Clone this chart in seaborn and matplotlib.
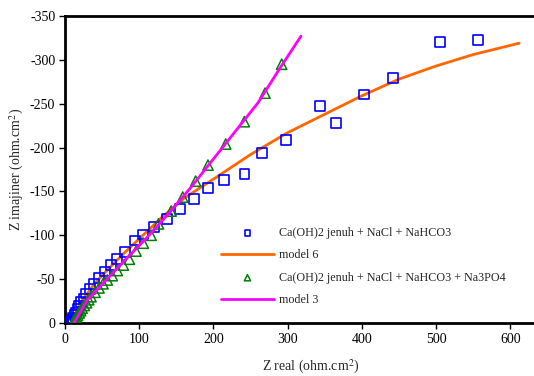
import seaborn as sns
import matplotlib.pyplot as plt
import pandas as pd

# measured data: Ca(OH)2 jenuh + NaCl + NaHCO3
zr_a = [8, 8.5, 9, 10, 11, 13, 15, 17, 19, 22, 25, 28.3, 33.7, 39.5, 45.8, 54.4, 62, 69.6,
        81, 94, 105.5, 120, 137, 155, 174, 193, 214.7, 242, 266, 297.8, 343.6, 365.6,
        403, 441.6, 505, 557]
zi_a = [0, 1, 2, 4, 6, 9, 12, 16, 20, 24, 28, 33.7, 39, 44.7, 51.5, 58.7, 66, 73,
        81.4, 94, 100.8, 109, 119, 130, 141, 154, 163, 170, 193.5, 209, 247.7, 228,
        260.6, 279, 320, 323]

# measured data: Ca(OH)2 jenuh + NaCl + NaHCO3 + Na3PO4
zr_b = [11, 11.5, 12, 13, 14, 15.5, 17, 19, 21, 23, 26, 29, 32, 35, 40.4, 45.8, 51.2, 57,
        63.7, 70.5, 78.6, 86.7, 95.7, 105.5, 116, 126, 143, 158.6, 176, 192.7, 216.6,
        241.6, 269.5, 292]
zi_b = [0, 1, 2, 3.5, 5, 7, 9, 11.5, 14, 17, 20, 23, 26.5, 30, 35, 40, 44.7, 49,
        54, 59.8, 66, 72.7, 82, 91, 100, 113, 127.6, 143.5, 161.7, 180, 204,
        229.5, 262, 295]

# model 6 curve
zr_m6 = [8, 20, 40, 60, 80, 105, 130, 160, 200, 250, 300, 350, 400, 450, 500, 550, 612]
zi_m6 = [0, 22, 45, 63, 80, 100, 120, 142, 164, 192, 217, 238, 259, 278, 293, 306, 319]

# model 3 curve
zr_m3 = [12, 30, 50, 80, 110, 140, 170, 200, 230, 260, 290, 318]
zi_m3 = [0, 26, 44, 71, 97, 125, 155, 187, 219, 251, 291, 327]

lab_a = "Ca(OH)2 jenuh + NaCl + NaHCO3"
lab_b = "Ca(OH)2 jenuh + NaCl + NaHCO3 + Na3PO4"

df_a = pd.DataFrame({"zr": zr_a, "zi": [-v for v in zi_a]})
df_b = pd.DataFrame({"zr": zr_b, "zi": [-v for v in zi_b]})
df_m6 = pd.DataFrame({"zr": zr_m6, "zi": [-v for v in zi_m6]})
df_m3 = pd.DataFrame({"zr": zr_m3, "zi": [-v for v in zi_m3]})

sns.set_theme(style="white")
plt.rcParams['font.family'] = ['Liberation Serif', 'DejaVu Serif']
plt.rcParams['mathtext.fontset'] = 'stix'
plt.rcParams['axes.unicode_minus'] = False

fig = plt.figure(figsize=(5.34, 3.76), dpi=100)
ax = fig.add_axes([65/534, 53/376, 1 - 65/534, 307/376])

sns.scatterplot(data=df_a, x="zr", y="zi", ax=ax, marker="s", s=50,
                facecolor="none", edgecolor="#0000ff", linewidth=1.2, label=lab_a, zorder=3)
sns.lineplot(data=df_m6, x="zr", y="zi", ax=ax, sort=False, color="#ff6600",
             linewidth=2.0, label="model 6", zorder=2)
sns.scatterplot(data=df_b, x="zr", y="zi", ax=ax, marker="^", s=55,
                facecolor="none", edgecolor="#008000", linewidth=1.1, label=lab_b, zorder=3)
sns.lineplot(data=df_m3, x="zr", y="zi", ax=ax, sort=False, color="#ff00ff",
             linewidth=2.0, label="model 3", zorder=4)

ax.set_xlim(0, 632)
ax.set_ylim(0, -350)
ax.set_xticks([0, 100, 200, 300, 400, 500, 600])
ax.set_yticks([0, -50, -100, -150, -200, -250, -300, -350])
ax.set_xlabel("Z real (ohm.cm$^2$)", fontsize=10, labelpad=7)
ax.xaxis.set_label_coords(0.524, -0.115)
ax.set_ylabel("Z imajiner (ohm.cm$^2$)", fontsize=10, labelpad=3)
ax.tick_params(axis="both", direction="out", length=4, width=1, labelsize=10,
               bottom=True, left=True, colors="black", pad=3)

for side in ["left", "bottom", "top"]:
    ax.spines[side].set_linewidth(2)
    ax.spines[side].set_color("black")
ax.spines["right"].set_visible(False)

leg = ax.legend(loc="upper left", bbox_to_anchor=(210/534, 1 - 216/376),
                bbox_transform=fig.transFigure, frameon=False, fontsize=8.7,
                handlelength=4.4, labelspacing=0.87, handletextpad=0.4, markerscale=0.6)

fig.savefig("out.png", dpi=100)
